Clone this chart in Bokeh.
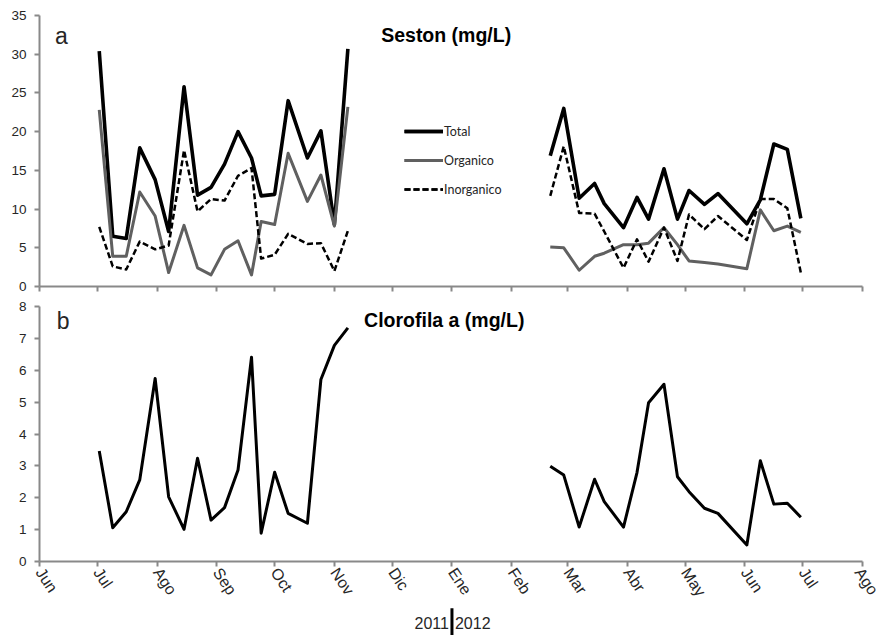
import pandas as pd
from bokeh.plotting import figure
from bokeh.models import Range1d, FixedTicker, Label, Legend, LegendItem
from bokeh.layouts import column
from bokeh.embed import file_html
from bokeh.resources import INLINE

# ---------------- data ----------------
origin = "2011-06-01"
month_starts = ["2011-06-01", "2011-07-01", "2011-08-01", "2011-09-01", "2011-10-01",
                "2011-11-01", "2011-12-01", "2012-01-01", "2012-02-01", "2012-03-01",
                "2012-04-01", "2012-05-01", "2012-06-01", "2012-07-01", "2012-08-01"]
month_labels = ["Jun", "Jul", "Ago", "Sep", "Oct", "Nov", "Dic", "Ene", "Feb", "Mar",
                "Abr", "May", "Jun", "Jul", "Ago"]
year_labels = ["2011", "2012"]

dates_2011 = ["2011-07-02", "2011-07-09", "2011-07-16", "2011-07-23", "2011-07-31",
              "2011-08-07", "2011-08-15", "2011-08-22", "2011-08-29", "2011-09-05",
              "2011-09-12", "2011-09-19", "2011-09-24", "2011-10-01", "2011-10-08",
              "2011-10-18", "2011-10-25", "2011-11-01", "2011-11-08"]
dates_2012 = ["2012-02-21", "2012-02-28", "2012-03-07", "2012-03-15", "2012-03-20",
              "2012-03-30", "2012-04-06", "2012-04-12", "2012-04-20", "2012-04-27",
              "2012-05-03", "2012-05-11", "2012-05-18", "2012-06-02", "2012-06-09",
              "2012-06-16", "2012-06-23", "2012-06-30"]

total_2011 = [30.4, 6.5, 6.2, 17.9, 13.8, 7.1, 25.8, 11.8, 12.8, 15.8, 20.0, 16.6,
              11.7, 11.9, 24.0, 16.6, 20.1, 8.0, 30.7]
organico_2011 = [22.8, 3.9, 3.9, 12.2, 9.1, 1.8, 7.9, 2.4, 1.5, 4.8, 5.9, 1.5,
                 8.4, 8.0, 17.2, 11.0, 14.4, 7.8, 23.2]
inorganico_2011 = [7.7, 2.6, 2.2, 5.8, 4.8, 5.3, 17.6, 9.7, 11.3, 11.1, 14.3, 15.3,
                   3.6, 4.1, 6.8, 5.5, 5.6, 2.0, 7.2]

total_2012 = [16.9, 23.0, 11.4, 13.3, 10.7, 7.6, 11.5, 8.7, 15.2, 8.7, 12.4, 10.6,
              12.0, 8.1, 11.2, 18.4, 17.7, 8.8]
organico_2012 = [5.1, 5.0, 2.1, 3.9, 4.3, 5.4, 5.4, 5.6, 7.6, 5.4, 3.3, 3.1,
                 2.9, 2.3, 9.9, 7.2, 7.8, 7.0]
inorganico_2012 = [11.7, 18.1, 9.5, 9.4, 7.1, 2.4, 6.1, 3.2, 7.6, 3.3, 9.3, 7.4,
                   9.1, 6.0, 11.3, 11.3, 10.1, 1.8]

clorofila_2011 = [3.47, 1.06, 1.56, 2.56, 5.74, 2.03, 1.01, 3.24, 1.30, 1.69, 2.87,
                  6.41, 0.89, 2.80, 1.51, 1.20, 5.71, 6.78, 7.33]
clorofila_2012 = [2.99, 2.71, 1.08, 2.58, 1.88, 1.08, 2.79, 4.98, 5.56, 2.66, 2.19,
                  1.67, 1.51, 0.52, 3.16, 1.80, 1.83, 1.39]

seston_ticks = [0, 5, 10, 15, 20, 25, 30, 35]
clorofila_ticks = [0, 1, 2, 3, 4, 5, 6, 7, 8]

# ---------------- helpers ----------------
o = pd.Timestamp(origin)


def days(ds):
    return [(pd.Timestamp(d) - o).days for d in ds]


x11 = days(dates_2011)
x12 = days(dates_2012)
mticks = days(month_starts)
xmax = mticks[-1]

FONT = "Liberation Sans"
AXIS_COL = "#898989"
TXT_COL = "#262626"


def style(p, yticks, show_xlabels):
    p.xgrid.visible = False
    p.ygrid.visible = False
    p.outline_line_color = None
    p.background_fill_color = None
    p.border_fill_color = None
    for ax in (p.xaxis[0], p.yaxis[0]):
        ax.axis_line_color = AXIS_COL
        ax.axis_line_width = 2
        ax.major_tick_line_color = AXIS_COL
        ax.major_tick_line_width = 2
        ax.major_tick_out = 5
        ax.major_tick_in = 0
        ax.minor_tick_line_color = None
        ax.major_label_text_font = FONT
        ax.major_label_text_color = TXT_COL
    p.yaxis[0].ticker = FixedTicker(ticks=yticks)
    p.yaxis[0].major_label_text_font_size = "13.5px"
    p.yaxis[0].major_label_standoff = 8
    p.xaxis[0].ticker = FixedTicker(ticks=mticks)
    if show_xlabels:
        p.xaxis[0].major_label_overrides = {t: l for t, l in zip(mticks, month_labels)}
        p.xaxis[0].major_label_orientation = -0.98
        p.xaxis[0].major_label_text_font_size = "16px"
        p.xaxis[0].major_label_standoff = 3
    else:
        p.xaxis[0].major_label_overrides = {t: "" for t in mticks}
        p.xaxis[0].major_label_text_font_size = "1px"
        p.xaxis[0].major_label_standoff = 0


# ---------------- top panel: Seston ----------------
top = figure(width=881, height=298, output_backend="svg", toolbar_location=None,
             x_range=Range1d(0, xmax), y_range=Range1d(0, 35),
             min_border_left=37, min_border_right=19, min_border_top=15,
             min_border_bottom=12)
style(top, seston_ticks, False)

r_t1 = top.line(x11, total_2011, line_color="black", line_width=3.6, line_join="round")
r_t2 = top.line(x12, total_2012, line_color="black", line_width=3.6, line_join="round")
r_o1 = top.line(x11, organico_2011, line_color="#606060", line_width=3, line_join="round")
r_o2 = top.line(x12, organico_2012, line_color="#606060", line_width=3, line_join="round")
r_i1 = top.line(x11, inorganico_2011, line_color="black", line_width=2.5,
                line_dash="6 3", line_join="round")
r_i2 = top.line(x12, inorganico_2012, line_color="black", line_width=2.5,
                line_dash="6 3", line_join="round")

legend = Legend(items=[LegendItem(label="Total", renderers=[r_t1, r_t2]),
                       LegendItem(label="Organico", renderers=[r_o1, r_o2]),
                       LegendItem(label="Inorganico", renderers=[r_i1, r_i2])],
                location=(365, 87), border_line_color=None, background_fill_alpha=0,
                padding=0, margin=0, spacing=9, glyph_width=39, glyph_height=20,
                label_height=20, label_standoff=1, label_text_font="Lato",
                label_text_font_size="12.5px", label_text_color=TXT_COL)
top.add_layout(legend)

top.add_layout(Label(x=8, y=32.4, text="a", text_font=FONT, text_font_size="23px",
                     text_color=TXT_COL, text_baseline="alphabetic"))
top.add_layout(Label(x=211, y=32.5, text="Seston (mg/L)", text_font=FONT,
                     text_font_size="19.5px", text_font_style="bold",
                     text_color="black", text_align="center",
                     text_baseline="alphabetic"))

# ---------------- bottom panel: Clorofila ----------------
bot = figure(width=881, height=309, output_backend="svg", toolbar_location=None,
             x_range=Range1d(0, xmax), y_range=Range1d(0, 8),
             min_border_left=39, min_border_right=10, min_border_top=8,
             min_border_bottom=45)
style(bot, clorofila_ticks, True)

bot.line(x11, clorofila_2011, line_color="black", line_width=3, line_join="round")
bot.line(x12, clorofila_2012, line_color="black", line_width=3, line_join="round")

bot.add_layout(Label(x=9, y=7.56, text="b", text_font=FONT, text_font_size="23px",
                     text_color=TXT_COL, text_baseline="alphabetic"))
bot.add_layout(Label(x=210, y=7.59, text="Clorofila a (mg/L)", text_font=FONT,
                     text_font_size="19.5px", text_font_style="bold",
                     text_color="black", text_align="center",
                     text_baseline="alphabetic"))

# ---------------- year caption strip ----------------
cap = figure(width=881, height=28, output_backend="svg", toolbar_location=None,
             x_range=Range1d(0, xmax), y_range=Range1d(0, 1),
             x_axis_type=None, y_axis_type=None,
             min_border_left=39, min_border_right=10, min_border_top=0,
             min_border_bottom=0)
cap.xgrid.visible = False
cap.ygrid.visible = False
cap.outline_line_color = None
cap.background_fill_color = None
cap.border_fill_color = None

ene = mticks[month_labels.index("Ene")]
cap.segment(x0=[ene], y0=[0], x1=[ene], y1=[0.97], line_color="black", line_width=3)
cap.add_layout(Label(x=ene, y=0.45, text=year_labels[0], text_font=FONT,
                     text_font_size="16px", text_color=TXT_COL, text_align="right",
                     text_baseline="middle", x_offset=-3))
cap.add_layout(Label(x=ene, y=0.45, text=year_labels[1], text_font=FONT,
                     text_font_size="16px", text_color=TXT_COL, text_align="left",
                     text_baseline="middle", x_offset=3))

layout = column(top, bot, cap)
open("out.html", "w").write(file_html(layout, INLINE))
